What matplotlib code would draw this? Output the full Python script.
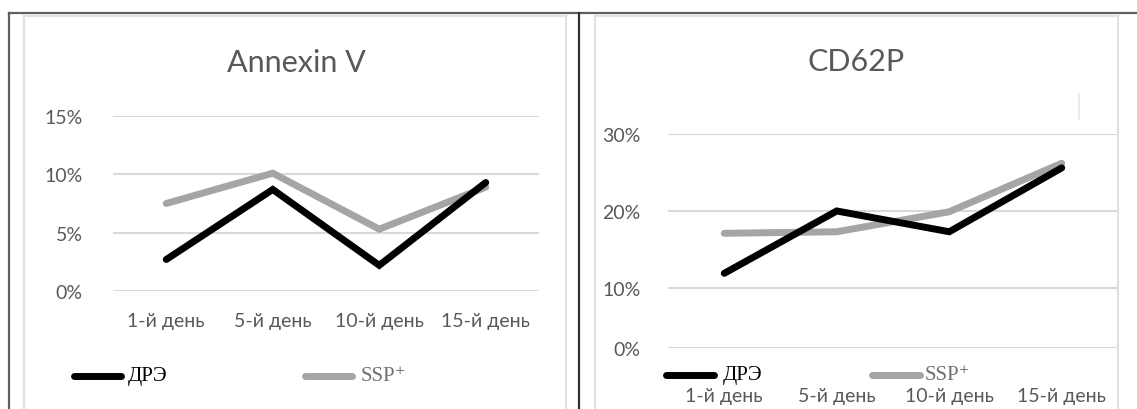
import numpy as np
import matplotlib
matplotlib.use("Agg")
import matplotlib.pyplot as plt
from matplotlib.lines import Line2D
from matplotlib.ticker import PercentFormatter, FixedLocator

# ---- data -------------------------------------------------------------
days = ["1-й день", "5-й день", "10-й день", "15-й день"]

annexin_dre = [2.7, 8.7, 2.2, 9.3]
annexin_ssp = [7.5, 10.1, 5.3, 8.9]
annexin_ticks = [0, 5, 10, 15]

cd62p_dre = [11.9, 20.0, 17.3, 25.6]
cd62p_ssp = [17.1, 17.3, 19.9, 26.2]
cd62p_ticks = [0, 10, 20, 30]

series_names = ["ДРЭ", "SSP⁺"]
series_colors = ["#000000", "#a5a5a5"]

# ---- figure -----------------------------------------------------------
W, H = 1137, 410
fig = plt.figure(figsize=(W / 100, H / 100), dpi=100)
fig.patch.set_facecolor("white")

SANS = ["Lato", "Open Sans", "DejaVu Sans"]
SERIF = ["Liberation Serif", "DejaVu Serif"]
TXT = "#595959"


def fx(x):
    return x / W


def fy(y):
    return 1 - y / H


def axes_px(x0, y0, x1, y1):
    return fig.add_axes([fx(x0), fy(y1), fx(x1 - x0), (y1 - y0) / H])


def pline(x0, y0, x1, y1, **kw):
    fig.add_artist(Line2D([fx(x0), fx(x1)], [fy(y0), fy(y1)],
                          transform=fig.transFigure, **kw))


# outer frame and panel borders
pline(9, 14, W, 14, color="#606060", lw=1.6)
pline(9, 14, 9, H, color="#606060", lw=1.6)
pline(579, 14, 579, H, color="#303030", lw=1.6)
for (a, b) in [(24, 566), (595, 1118)]:
    pline(a, 16.5, b, 16.5, color="#e2e2e2", lw=1.6)
    pline(a, 16.5, a, H, color="#e2e2e2", lw=1.6)
    pline(b, 16.5, b, H, color="#e2e2e2", lw=1.6)
pline(1079, 95, 1079, 120, color="#e6e6e6", lw=1.2)


def style_axes(ax, ticks, xpad, ypad):
    ax.set_xlim(-0.5, len(days) - 0.5)
    ax.set_xticks(range(len(days)))
    ax.set_xticklabels(days)
    ax.yaxis.set_major_locator(FixedLocator(ticks))
    ax.yaxis.set_major_formatter(PercentFormatter(decimals=0))
    for s in ax.spines.values():
        s.set_visible(False)
    ax.grid(axis="y", color="#d9d9d9", lw=1.5)
    ax.set_axisbelow(True)
    ax.tick_params(length=0, labelsize=14, labelcolor=TXT)
    ax.tick_params(axis="x", pad=xpad)
    ax.tick_params(axis="y", pad=ypad)
    for lab in ax.get_xticklabels() + ax.get_yticklabels():
        lab.set_family(SANS)


def draw_series(ax, values):
    x = np.arange(len(days))
    lines = []
    for vals, c in zip(values, series_colors):
        ln, = ax.plot(x, vals, color=c, lw=5, solid_capstyle="round",
                      solid_joinstyle="miter", zorder=3 if c == "#000000" else 2)
        lines.append(ln)
    return lines


def draw_legend(items):
    for (x0, x1, y, tx), c, name in zip(items, series_colors, series_names):
        pline(x0, y, x1, y, color=c, lw=5, solid_capstyle="round")
        fig.text(fx(tx), fy(y), name, family=SERIF, fontsize=15,
                 color="#000000" if c == "#000000" else "#707070",
                 ha="left", va="center")


# ---- Annexin V --------------------------------------------------------
ax1 = axes_px(113, 117, 539, 292)
ax1.set_ylim(0, 15)
draw_series(ax1, [annexin_dre, annexin_ssp])
style_axes(ax1, annexin_ticks, xpad=15, ypad=22)
fig.text(fx(296), fy(63), "Annexin V", family=SANS, fontsize=22,
         color=TXT, ha="center", va="center")
draw_legend([(74, 121, 377, 128), (305, 352, 377, 361)])

# ---- CD62P ------------------------------------------------------------
K = 0.78  # compression of the band below 10 %


def fwd(y):
    y = np.asarray(y, dtype=float)
    return np.where(y >= 10, y, 10 - (10 - y) * K)


def inv(u):
    u = np.asarray(u, dtype=float)
    return np.where(u >= 10, u, 10 - (10 - u) / K)


ax2 = axes_px(668, 135, 1118, 349)
ax2.set_yscale("function", functions=(fwd, inv))
ax2.set_ylim(0, 30)
draw_series(ax2, [cd62p_dre, cd62p_ssp])
style_axes(ax2, cd62p_ticks, xpad=28, ypad=20)
fig.text(fx(856), fy(62), "CD62P", family=SANS, fontsize=22,
         color=TXT, ha="center", va="center")
draw_legend([(666, 714, 376, 723), (872, 920, 376, 925)])

fig.savefig("out.png", dpi=100, facecolor="white")
